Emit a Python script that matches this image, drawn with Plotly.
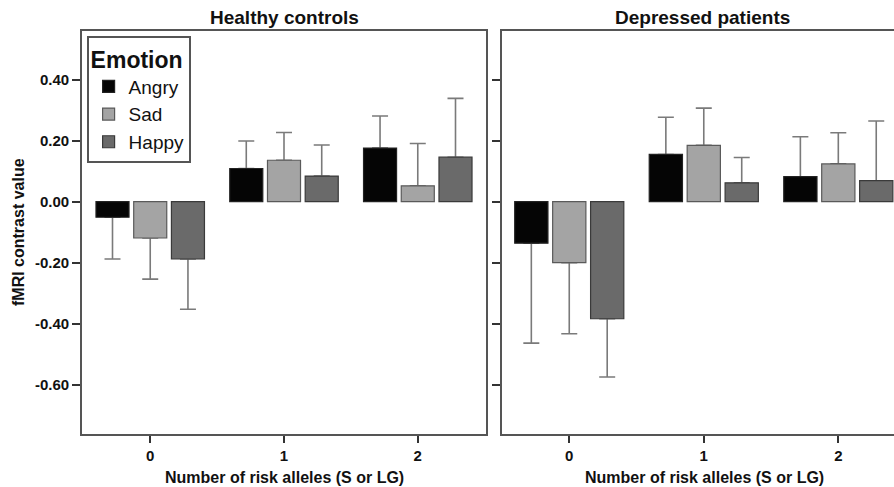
import plotly.graph_objects as go

# ---- data ----
alleles = [0, 1, 2]
tick_labels = ["0", "1", "2"]
y_tickvals = [-0.6, -0.4, -0.2, 0.0, 0.2, 0.4]
y_ticklabels = ["-0.60", "-0.40", "-0.20", "0.00", "0.20", "0.40"]
emotions = ["Angry", "Sad", "Happy"]

healthy_angry = [-0.051, 0.109, 0.176]
healthy_sad = [-0.119, 0.136, 0.052]
healthy_happy = [-0.188, 0.084, 0.146]
healthy_angry_err = [0.137, 0.090, 0.105]
healthy_sad_err = [0.135, 0.091, 0.139]
healthy_happy_err = [0.165, 0.102, 0.193]

depressed_angry = [-0.136, 0.155, 0.082]
depressed_sad = [-0.200, 0.185, 0.124]
depressed_happy = [-0.384, 0.062, 0.069]
depressed_angry_err = [0.328, 0.122, 0.131]
depressed_sad_err = [0.233, 0.122, 0.102]
depressed_happy_err = [0.191, 0.083, 0.196]

panels = [
    ("x", "y", [healthy_angry, healthy_sad, healthy_happy],
     [healthy_angry_err, healthy_sad_err, healthy_happy_err], True),
    ("x2", "y2", [depressed_angry, depressed_sad, depressed_happy],
     [depressed_angry_err, depressed_sad_err, depressed_happy_err], False),
]

fill_colors = {"Angry": "#050505", "Sad": "#a4a4a4", "Happy": "#6a6a6a"}
line_colors = {"Angry": "#222222", "Sad": "#5a5a5a", "Happy": "#3a3a3a"}

FONT = "Liberation Sans, Arial, Helvetica, sans-serif"
W, H = 894, 487

fig = go.Figure()

# error-bar traces first (drawn beneath the visible bars)
for xa, ya, vals, errs, _ in panels:
    for emo, v, e in zip(emotions, vals, errs):
        plus = [ee if vv >= 0 else 0 for vv, ee in zip(v, e)]
        minus = [ee if vv < 0 else 0 for vv, ee in zip(v, e)]
        fig.add_trace(go.Bar(
            x=alleles, y=v, xaxis=xa, yaxis=ya, offsetgroup=emo,
            marker=dict(color="rgba(0,0,0,0)", line=dict(width=0)),
            error_y=dict(type="data", symmetric=False, array=plus, arrayminus=minus,
                         color="#7a7a7a", thickness=1.6, width=8),
            showlegend=False, hoverinfo="skip",
        ))

for xa, ya, vals, errs, show in panels:
    for emo, v in zip(emotions, vals):
        fig.add_trace(go.Bar(
            x=alleles, y=v, xaxis=xa, yaxis=ya, offsetgroup=emo,
            name=emo, legendgroup=emo, showlegend=show,
            marker=dict(color=fill_colors[emo], line=dict(color=line_colors[emo], width=1.2)),
        ))

x1d = [82 / W, 486 / W]
x2d = [502 / W, 1.0]
yd = [1 - 434 / H, 1 - 31 / H]

axis_common = dict(showline=True, linecolor="#555555", linewidth=1.6,
                   showgrid=False, zeroline=False,
                   ticks="outside", tickcolor="#333333", tickwidth=2,
                   tickfont=dict(family=FONT, size=15, color="#111111", weight="bold"))

fig.update_layout(
    width=W, height=H,
    margin=dict(l=0, r=0, t=0, b=0),
    paper_bgcolor="white", plot_bgcolor="white",
    barmode="group", bargap=0.154, bargroupgap=0.124,
    font=dict(family=FONT, color="#111111"),
    xaxis=dict(domain=x1d, anchor="y", range=[-0.51, 2.51], tickvals=alleles,
               ticktext=tick_labels, ticklen=7, mirror=True, **axis_common),
    yaxis=dict(domain=yd, anchor="x", range=[-0.762, 0.56],
               tickvals=y_tickvals, ticktext=y_ticklabels,
               ticklen=8, mirror=True, **axis_common),
    xaxis2=dict(domain=x2d, anchor="y2", range=[-0.5, 2.414], tickvals=alleles,
                ticktext=tick_labels, ticklen=7, mirror=True, **axis_common),
    yaxis2=dict(domain=yd, anchor="x2", range=[-0.762, 0.56],
                tickvals=y_tickvals,
                showticklabels=False, ticklen=8, mirror=False, **axis_common),
    legend=dict(
        x=87 / W, y=1 - 36 / H, xanchor="left", yanchor="top",
        bgcolor="white", bordercolor="#555555", borderwidth=1.6,
        font=dict(family=FONT, size=19, color="#111111"),
        title=dict(text="Emotion", font=dict(family=FONT, size=23, color="#111111", weight="bold")),
        tracegroupgap=0, itemwidth=30,
    ),
)

ann = [
    dict(text="Healthy controls", x=284 / W, y=1 - 17 / H, size=19),
    dict(text="Depressed patients", x=702 / W, y=1 - 17 / H, size=19),
    dict(text="Number of risk alleles (S or LG)", x=284 / W, y=1 - 477 / H, size=16),
    dict(text="Number of risk alleles (S or LG)", x=704 / W, y=1 - 477 / H, size=16),
]
for a in ann:
    fig.add_annotation(text=a["text"], x=a["x"], y=a["y"], xref="paper", yref="paper",
                       xanchor="center", yanchor="middle", showarrow=False,
                       font=dict(family=FONT, size=a["size"], color="#111111", weight="bold"))
fig.add_annotation(text="fMRI contrast value", x=19 / W, y=1 - 232 / H, xref="paper", yref="paper",
                   xanchor="center", yanchor="middle", showarrow=False, textangle=-90,
                   font=dict(family=FONT, size=16, color="#111111", weight="bold"))

fig.write_html("out.html", config={"displayModeBar": False},
               post_script="document.body.style.margin='0';document.body.style.overflow='hidden';")
